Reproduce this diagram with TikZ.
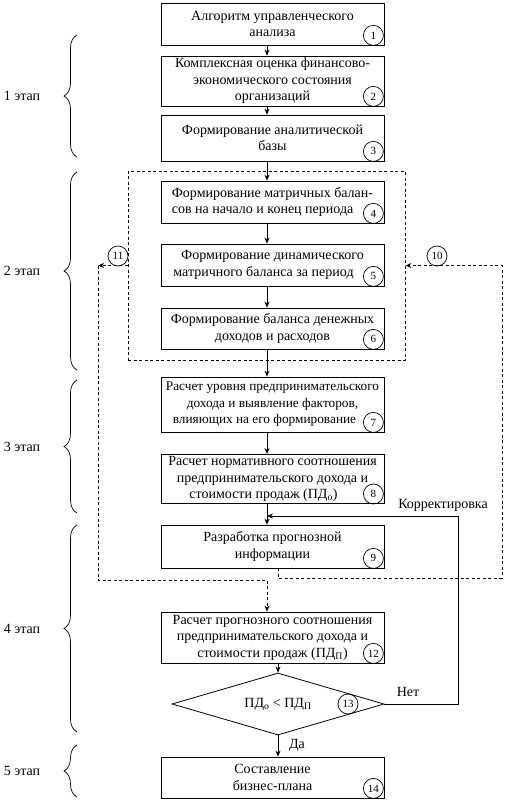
\documentclass[tikz,border=0pt]{standalone}
\usepackage{fontspec}
\setmainfont{Liberation Serif}
\usetikzlibrary{arrows.meta,shapes.geometric,decorations.pathreplacing}

\tikzstyle{block}=[draw=black, line width=0.8pt, rectangle, minimum width=223pt, inner sep=2pt, align=center]
\tikzstyle{num}=[draw=black, line width=0.7pt, circle, minimum size=20pt, inner sep=0pt, font=\fontsize{11}{12}\selectfont]
\tikzstyle{link}=[line width=0.8pt, -{Stealth[length=6pt,width=5pt]}]
\tikzstyle{loopline}=[line width=0.8pt, dash pattern=on 3pt off 2.5pt]
\tikzstyle{stagebrace}=[decorate, decoration={brace, amplitude=13pt}, line width=0.7pt]
\newcommand{\flowbox}[5][]{
	\pgfmathsetmacro{\boxH}{(#4) - (#3)}
	\pgfmathsetmacro{\boxY}{((#3) + (#4)) / 2}
	\node[block, #1, minimum height=\boxH pt] (b#2) at (\midX, \boxY) {#5};
	\node[num] (n#2) at ([xshift=-11pt, yshift=10pt]b#2.south east) {#2};
}

\begin{document}
\begin{tikzpicture}[x=1pt, y=-1pt, font=\fontsize{14}{16.5}\selectfont]
\pgfmathsetmacro{\midX}{272.5}
\pgfmathsetmacro{\upX}{267}
\pgfmathsetmacro{\lowX}{278}
\useasboundingbox (0,0) rectangle (508,804);

\node[draw=black, loopline, minimum width=277pt, minimum height=189pt] (frame) at (266.5,265.5) {};

\flowbox{1}{3}{45}{Алгоритм управленческого\\анализа}
\flowbox{2}{56}{106}{Комплексная оценка финансово-\\экономического состояния\\организаций}
\flowbox{3}{115}{161}{Формирование аналитической\\базы}
\flowbox[align=left]{4}{181}{223}{Формирование матричных балан-\\сов на начало и конец периода}
\flowbox{5}{244}{286}{Формирование динамического\\матричного баланса за период\hspace*{18pt}}
\flowbox{6}{308}{349}{Формирование баланса денежных\\доходов и расходов}
\flowbox[font=\fontsize{13.3}{16.5}\selectfont]{7}{377}{432}{Расчет уровня предпринимательского\\дохода и выявление факторов,\\влияющих на его формирование\hspace*{16pt}}
\flowbox{8}{455}{503}{Расчет нормативного соотношения\\предпринимательского дохода и\\стоимости продаж (ПД\textsubscript{о})\hspace*{18pt}}
\flowbox{9}{525}{568}{Разработка прогнозной\\информации}
\flowbox{12}{612}{663}{Расчет прогнозного соотношения\\предпринимательского дохода и\\стоимости продаж (ПД\textsubscript{П})}
\node[draw=black, line width=0.8pt, diamond, aspect=3.4, inner sep=0pt, minimum width=212pt, minimum height=62pt] (b13) at (\lowX,704) {ПД\textsubscript{о} < ПД\textsubscript{П}};
\node[num] (n13) at (348,704) {13};
\flowbox{14}{757}{798}{Составление\\бизнес-плана}

\coordinate (upAxis) at (\upX,0);
\coordinate (lowAxis) at (\lowX,0);
\foreach \a/\b in {1/2,2/3,3/4,4/5,5/6,6/7,7/8,8/9}
    \draw[link] (b\a.south -| upAxis) -- (b\b.north -| upAxis);
\foreach \a/\b in {12/13,13/14}
    \draw[link] (b\a.south -| lowAxis) -- (b\b.north -| lowAxis);

\coordinate (leftTurn) at (98,265.5);
\coordinate (leftLow) at (98,580);
\coordinate (rightLow) at (502,578);
\draw[link, loopline] (frame.west) -- (leftTurn);
\draw[link, loopline] (leftTurn) -- (leftLow) -| (b12.north -| upAxis);
\draw[link, loopline] (b9.south -| lowAxis) |- (rightLow) |- (frame.east);
\node[num] (n10) at (437,256) {10};
\node[num] (n11) at (118,256) {11};

\coordinate (fixTurn) at (458,704);
\coordinate (fixIn) at (\upX,516);
\draw[link] (b13.east) -- (fixTurn) |- (fixIn);
\node (corrLabel) at (443,505) {Корректировка};
\node (noLabel) at (408,692) {Нет};
\node (yesLabel) at (297,745) {Да};

\foreach \ya/\yb/\stageNo in {35/157/1, 172/370/2, 380/513/3, 525/732/4, 745/797/5} {
    \draw[stagebrace] (77,\yb) -- (77,\ya);
    \node (stage\stageNo) at (22,{(\ya+\yb)/2}) {\stageNo\ этап};
}
\end{tikzpicture}
\end{document}
